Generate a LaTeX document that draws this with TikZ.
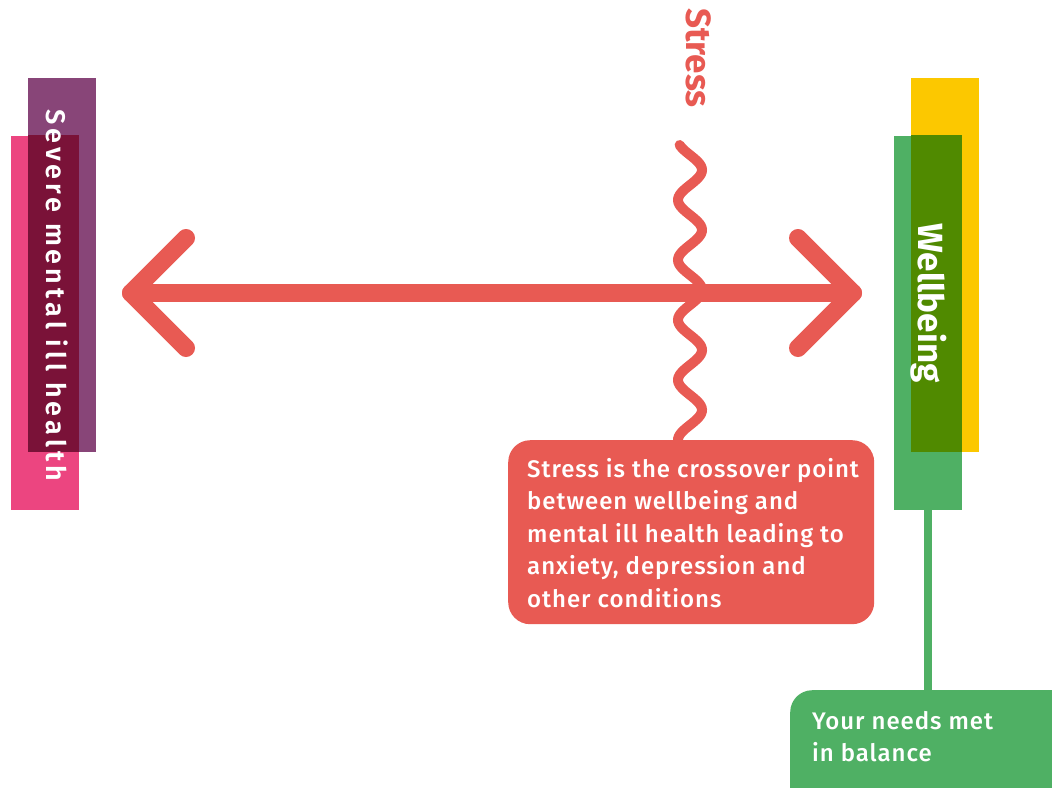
\documentclass[tikz,border=0pt]{standalone}
\usepackage{fontspec}
\setmainfont{Fira Sans}
\newfontfamily\bodyfont{Fira Sans Medium}[LetterSpace=4]
\newfontfamily\sidefont{Fira Sans SemiBold}[LetterSpace=15]
\definecolor{stressred}{HTML}{E85A53}
\definecolor{plum}{HTML}{884578}
\definecolor{rosepink}{HTML}{EC4580}
\definecolor{maroon}{HTML}{7A1238}
\definecolor{sunyellow}{HTML}{FCC800}
\definecolor{leafgreen}{HTML}{4FB064}
\definecolor{olivegreen}{HTML}{508A00}
\begin{document}
\begin{tikzpicture}[x=1pt,y=-1pt,
bar/.style={rectangle, minimum width=68pt, minimum height=374pt, inner sep=0pt},
sidelabel/.style={rotate=-90, text=white, font=\sidefont\fontsize{27}{30}\selectfont},
biglabel/.style={rotate=-90, font=\bfseries\fontsize{35}{38}\selectfont},
boxtext/.style={text=white, align=left, inner sep=0pt, font=\bodyfont\fontsize{24}{32.5}\selectfont},
arrowline/.style={stressred, line width=18pt, line cap=round, line join=round}
]
\useasboundingbox (0,0) rectangle (1052,787);
\node[bar, fill=plum] (illback) at (62,265) {};
\node[bar, fill=rosepink] (illfront) at (45,322.5) {};
\fill[maroon] (illback.west |- illfront.north) rectangle (illfront.east |- illback.south);
\node[sidelabel] (illlabel) at (57,295) {Severe mental ill health};
\node[bar, fill=sunyellow] (wellback) at (945,265) {};
\node[bar, fill=leafgreen] (wellfront) at (928,322.5) {};
\fill[olivegreen] (wellback.west |- wellfront.north) rectangle (wellfront.east |- wellback.south);
\node[biglabel, text=white] (welllabel) at (929,303) {Wellbeing};
\coordinate (lefttip) at (131,293);
\coordinate (righttip) at (853,293);
\draw[arrowline] (lefttip) -- (righttip);
\draw[arrowline] ([shift={(55,-55)}]lefttip) -- (lefttip) -- ([shift={(55,55)}]lefttip);
\draw[arrowline] ([shift={(-55,-55)}]righttip) -- (righttip) -- ([shift={(-55,55)}]righttip);
\node[biglabel, text=stressred] (stresslabel) at (699,58) {Stress};
\draw[stressred, line width=10pt, line cap=round] plot[variable=\t, domain=145:450, samples=160, smooth] ({690+12*sin(6*(\t-155))}, \t);
\node[fill=stressred, rounded corners=22pt, anchor=north west, minimum width=366pt, minimum height=184pt] (crossbox) at (508,440) {};
\node[boxtext, anchor=north west] (crosstext) at ([shift={(19,18)}]crossbox.north west) {Stress is the crossover point\\between wellbeing and\\mental ill health leading to\\anxiety, depression and\\other conditions};
\node[fill=leafgreen, rounded corners=22pt, anchor=north west, minimum width=300pt, minimum height=120pt] (needsbox) at (790,690) {};
\node[boxtext, anchor=north west] (needstext) at ([shift={(22,21)}]needsbox.north west) {Your needs met\\in balance};
\draw[leafgreen, line width=8pt] (wellfront.south) -- (wellfront.south |- needsbox.north);
\end{tikzpicture}
\end{document}
